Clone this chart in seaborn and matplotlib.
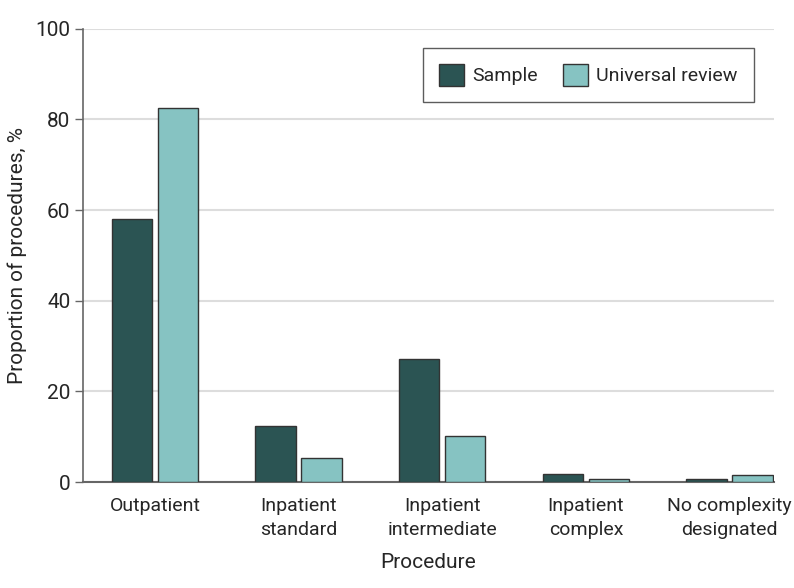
import pandas as pd
import matplotlib.pyplot as plt
import seaborn as sns

# Values
procedures = ["Outpatient", "Inpatient\nstandard", "Inpatient\nintermediate",
              "Inpatient\ncomplex", "No complexity\ndesignated"]
sample = [58.1, 12.4, 27.1, 1.8, 0.7]
universal = [82.5, 5.4, 10.2, 0.7, 1.5]
groups = ["Sample", "Universal review"]
colors = ["#2b5453", "#86c3c2"]

df = pd.DataFrame({
    "Procedure": procedures * 2,
    "Proportion": sample + universal,
    "Group": [groups[0]] * len(procedures) + [groups[1]] * len(procedures),
})

sns.set_style("white")
plt.rcParams["font.family"] = ["Roboto", "DejaVu Sans"]

fig = plt.figure(figsize=(7.94, 5.88), dpi=100)
ax = fig.add_axes([0.1045, 0.180, 0.8705, 0.771])

sns.barplot(data=df, x="Procedure", y="Proportion", hue="Group",
            palette=colors, saturation=1, width=0.64, gap=0.12,
            edgecolor="#333333", linewidth=1, ax=ax, zorder=3)

ax.set_ylim(0, 100)
ax.set_xlim(-0.5, 4.31)
ax.set_yticks([0, 20, 40, 60, 80, 100])
ax.yaxis.grid(True, color="#dddddd", linewidth=1.5, zorder=0)
ax.set_axisbelow(True)

for s in ["top", "right"]:
    ax.spines[s].set_visible(False)
ax.spines["left"].set_color("#666666")
ax.spines["bottom"].set_color("#666666")
ax.spines["left"].set_linewidth(1.2)
ax.spines["bottom"].set_linewidth(1.5)

ax.tick_params(axis="y", left=True, length=6, width=1, color="#666666",
               labelsize=15, pad=3)
ax.tick_params(axis="x", bottom=False, labelsize=14, pad=7)
for lbl in ax.get_xticklabels():
    lbl.set_linespacing(1.45)

ax.set_xlabel("Procedure", fontsize=15, labelpad=10)
ax.set_ylabel("Proportion of procedures, %", fontsize=15, labelpad=6)

leg = ax.legend(loc="upper right", bbox_to_anchor=(0.971, 0.958), ncol=2,
                fontsize=14, frameon=True, fancybox=False,
                handlelength=1.3, handleheight=1.3, handletextpad=0.4,
                columnspacing=1.3, borderpad=0.85, borderaxespad=0)
leg.get_frame().set_edgecolor("#333333")
leg.get_frame().set_linewidth(1)

fig.savefig("out.png", dpi=100)
